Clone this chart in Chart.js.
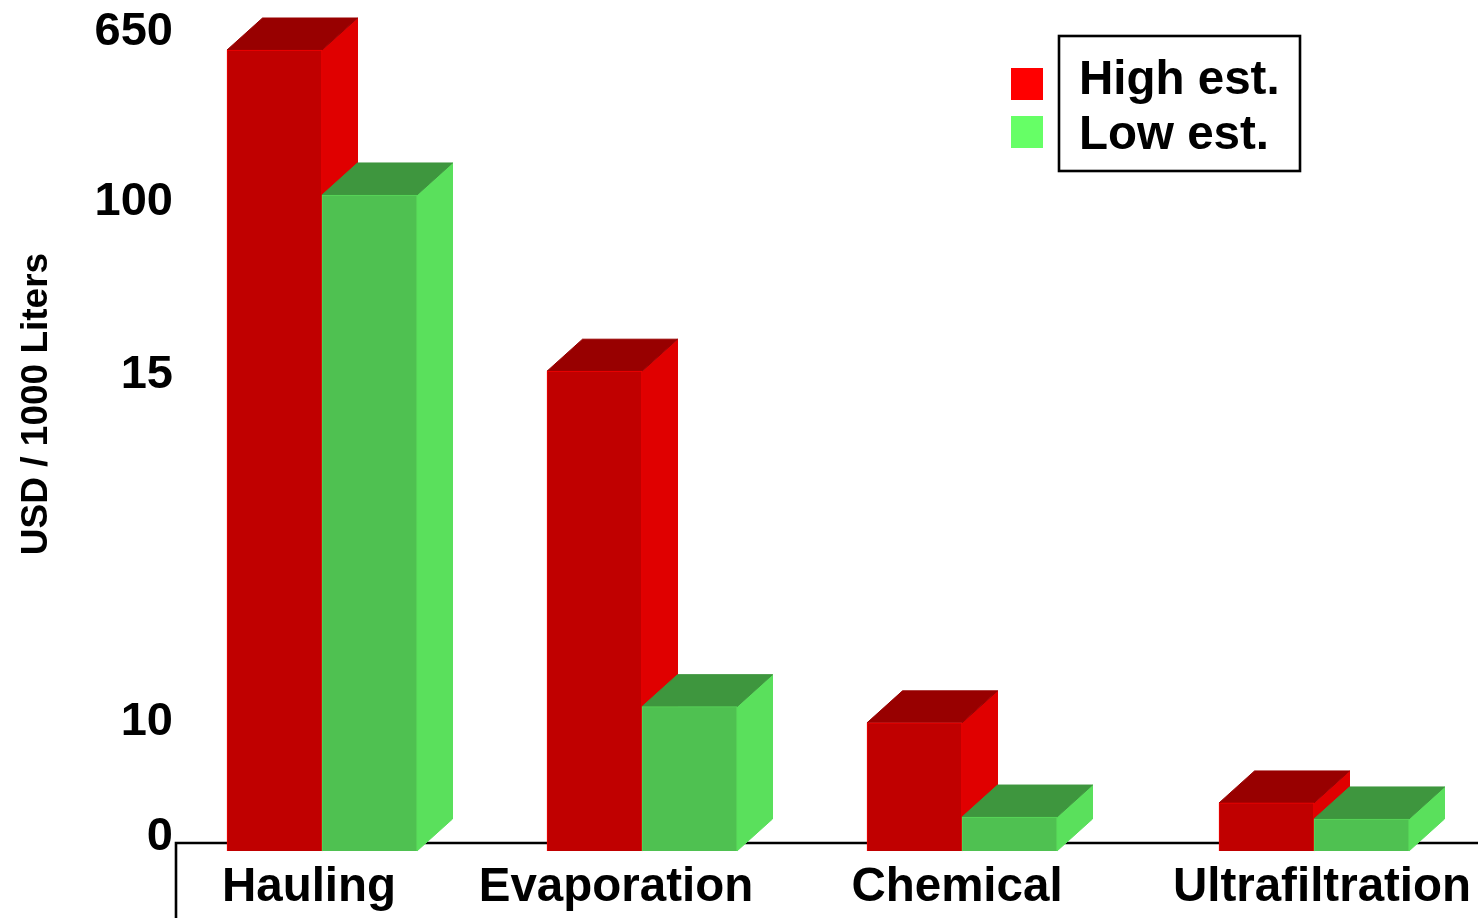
<!DOCTYPE html>
<html>
<head>
<meta charset="utf-8">
<title>Treatment cost</title>
<script src="https://cdn.jsdelivr.net/npm/chart.js@4/dist/chart.umd.min.js"></script>
<style>
    html, body { margin: 0; padding: 0; background: #fff; overflow: hidden; }
    canvas { display: block; }
</style>
</head>
<body>
<canvas id="cnv_cost_chart" width="1478" height="918"></canvas>
<script>
const categories = ['Hauling', 'Evaporation', 'Chemical', 'Ultrafiltration']
const highEst = [650, 15, 10, 3.75]
const lowEst = [100, 10.23, 2.65, 2.5]
const yTicks = [0, 10, 15, 100, 650]
const yTitle = 'USD / 1000 Liters'

// the axis is not to scale, so these say where each tick value sits (share of plot height)
const yStops = [0, 0.16, 0.599, 0.819, 1]
const yLabelPixels = [837, 722, 375, 202, 32]
// group slots along x, the last group is pushed right a bit
const xSlots = [0, 1, 2, 3.1]
const xLabelPixels = [309, 616, 957, 1322]

const FONT = '"Liberation Sans", Arial, sans-serif'
const DEPTH_X = 35.5
const DEPTH_Y = 32

class SteppedScale extends Chart.LinearScale {
    buildTicks() {
        return yTicks.map(value => ({ value }))
    }
    getPixelForValue(value) {
        let i = 0
        while (i < yTicks.length - 2 && value > yTicks[i + 1]) i++
        const t = (value - yTicks[i]) / (yTicks[i + 1] - yTicks[i])
        const share = yStops[i] + t * (yStops[i + 1] - yStops[i])
        return this.bottom - share * (this.bottom - this.top)
    }
    getPixelForTick(index) {
        return yLabelPixels[index]
    }
}
SteppedScale.id = 'stepped'
SteppedScale.defaults = Chart.LinearScale.defaults

class SlotScale extends Chart.CategoryScale {
    getPixelForValue(value) {
        return this.left + 146 + 320 * xSlots[value]
    }
    getPixelForTick(index) {
        return xLabelPixels[index]
    }
}
SlotScale.id = 'slots'
SlotScale.defaults = Chart.CategoryScale.defaults

Chart.register(SteppedScale, SlotScale)

const polygon = (ctx, color, points) => {
    ctx.fillStyle = color
    ctx.strokeStyle = color
    ctx.lineWidth = 1
    ctx.beginPath()
    points.forEach(([x, y], i) => i ? ctx.lineTo(x, y) : ctx.moveTo(x, y))
    ctx.closePath()
    ctx.fill()
    ctx.stroke()
}

// top and side faces come from the bar elements the library already placed.
// chart.js paints the last dataset first, here the low bars have to land on top of
// the red sides, so the normal pass is cancelled and the datasets are painted in order
const boxFaces = {
    id: 'boxFaces',
    beforeDatasetDraw() {
        return false
    },
    afterDatasetsDraw(chart) {
        const ctx = chart.ctx
        chart.data.datasets.forEach((dataset, i) => {
            const meta = chart.getDatasetMeta(i)
            ctx.save()
            meta.data.forEach(bar => {
                const left = bar.x - bar.width / 2
                const right = bar.x + bar.width / 2
                polygon(ctx, dataset.sideColor, [
                    [right, bar.y], [right + DEPTH_X, bar.y - DEPTH_Y],
                    [right + DEPTH_X, bar.base - DEPTH_Y], [right, bar.base]
                ])
                polygon(ctx, dataset.topColor, [
                    [left, bar.y], [left + DEPTH_X, bar.y - DEPTH_Y],
                    [right + DEPTH_X, bar.y - DEPTH_Y], [right, bar.y]
                ])
            })
            ctx.restore()
            meta.controller.draw()
        })
    }
}

const axisLines = {
    id: 'axisLines',
    beforeDatasetsDraw(chart) {
        const ctx = chart.ctx
        ctx.save()
        ctx.strokeStyle = '#000'
        ctx.lineWidth = 2.6
        ctx.beginPath()
        ctx.moveTo(176, 918)
        ctx.lineTo(176, 843)
        ctx.lineTo(1478, 843)
        ctx.stroke()
        ctx.restore()
    }
}

const sideText = {
    id: 'sideText',
    afterDraw(chart) {
        const ctx = chart.ctx
        ctx.save()
        // y title
        ctx.fillStyle = '#000'
        ctx.font = `bold 37px ${FONT}`
        ctx.textAlign = 'center'
        ctx.textBaseline = 'alphabetic'
        ctx.translate(47, 404)
        ctx.rotate(-Math.PI / 2)
        ctx.fillText(yTitle, 0, 0)
        ctx.restore()

        // legend, the swatches stay outside the frame
        ctx.save()
        ctx.strokeStyle = '#000'
        ctx.lineWidth = 2.6
        ctx.strokeRect(1059, 36, 241, 135)
        ctx.font = `bold 47.5px ${FONT}`
        ctx.textBaseline = 'alphabetic'
        chart.data.datasets.forEach((dataset, i) => {
            ctx.fillStyle = dataset.legendColor
            ctx.fillRect(1011, 68 + 48 * i, 32, 32)
            ctx.fillStyle = '#000'
            ctx.fillText(dataset.label, 1079, 94 + 55 * i)
        })
        ctx.restore()
    }
}

const ctx = document.getElementById('cnv_cost_chart').getContext('2d')
const myChart = new Chart(ctx, {
    type: 'bar',
    plugins: [axisLines, boxFaces, sideText],
    data: {
        labels: categories,
        datasets: [{
            label: 'High est.',
            data: highEst,
            backgroundColor: '#c00000',
            borderColor: '#f40000',
            borderWidth: 1,
            sideColor: '#e00000',
            topColor: '#980000',
            legendColor: '#ff0000'
        }, {
            label: 'Low est.',
            data: lowEst,
            backgroundColor: '#4fc151',
            borderColor: '#58d85a',
            borderWidth: 1,
            sideColor: '#5ae05c',
            topColor: '#3e963e',
            legendColor: '#66ff66'
        }]
    },
    options: {
        responsive: false,
        animation: false,
        barThickness: 95,
        layout: { padding: { top: 50, left: 0, right: 0, bottom: 0 } },
        plugins: {
            legend: { display: false },
            tooltip: { enabled: false }
        },
        scales: {
            x: {
                type: 'slots',
                grid: { display: false, tickLength: 0 },
                border: { display: false },
                afterFit: scale => { scale.height = 67 },
                ticks: {
                    color: '#000',
                    autoSkip: false,
                    maxRotation: 0,
                    minRotation: 0,
                    padding: 8,
                    font: { family: FONT, size: 47.5, weight: 'bold' }
                }
            },
            y: {
                type: 'stepped',
                min: 0,
                max: 650,
                grid: { display: false, tickLength: 0 },
                border: { display: false },
                afterFit: scale => { scale.width = 176 },
                ticks: {
                    color: '#000',
                    autoSkip: false,
                    padding: 3,
                    font: { family: FONT, size: 47, weight: 'bold' }
                }
            }
        }
    }
})
</script>
</body>
</html>
